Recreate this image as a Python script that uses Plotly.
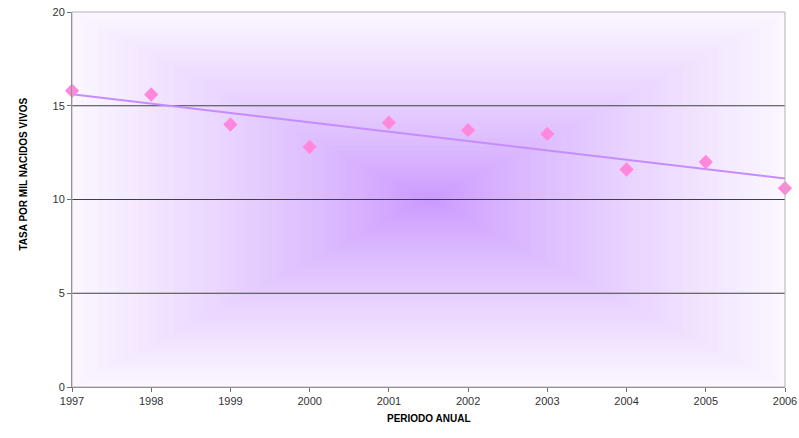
import numpy as np
import plotly.graph_objects as go

years = [1997, 1998, 1999, 2000, 2001, 2002, 2003, 2004, 2005, 2006]
tasa = [15.8, 15.6, 14.0, 12.8, 14.1, 13.7, 13.5, 11.6, 12.0, 10.6]
y_ticks = [0, 5, 10, 15, 20]

# linear trend line
coef = np.polyfit(years, tasa, 1)
trend = [coef[0] * yr + coef[1] for yr in years]

fig = go.Figure()

# gridlines (drawn above background, below data)
gx, gy = [], []
for t in y_ticks[1:-1]:
    gx += [years[0], years[-1], None]
    gy += [t, t, None]
fig.add_trace(go.Scatter(x=gx, y=gy, mode="lines", line=dict(color="#404040", width=1),
                         hoverinfo="skip", showlegend=False))

fig.add_trace(go.Scatter(x=[years[0], years[-1]], y=[trend[0], trend[-1]], mode="lines",
                         line=dict(color="#c58cff", width=2), showlegend=False, cliponaxis=False))
fig.add_trace(go.Scatter(x=years, y=tasa, mode="markers",
                         marker=dict(symbol="diamond", size=11, color="#ff88dd"),
                         showlegend=False, cliponaxis=False))

# rectangular "from center" gradient background
c_center = np.array([201, 150, 255])
c_edge = np.array([251, 246, 255])
N = 70
shapes = []
for k in range(N, 0, -1):
    f = k / N
    t = f ** 0.8
    col = c_center + (c_edge - c_center) * t
    h = f / 2
    shapes.append(dict(type="rect", xref="x domain", yref="y domain",
                       x0=0.5 - h, x1=0.5 + h, y0=0.5 - h, y1=0.5 + h,
                       line=dict(width=0), fillcolor="rgb(%d,%d,%d)" % tuple(col.round()),
                       layer="below"))
# top/right border
shapes.append(dict(type="rect", xref="x domain", yref="y domain", x0=0, x1=1, y0=0, y1=1,
                   line=dict(color="#b4b4b4", width=1), layer="above"))

fig.update_layout(
    width=799, height=438,
    margin=dict(l=72, r=14, t=12, b=51),
    paper_bgcolor="white", plot_bgcolor="white",
    font=dict(family="Arial, Liberation Sans", size=11, color="#333333"),
    shapes=shapes,
    xaxis=dict(range=[years[0], years[-1]], tickmode="array", tickvals=years,
               ticks="outside", ticklen=4, tickcolor="#707070", automargin=False,
               showline=True, linecolor="#707070", linewidth=1, showgrid=False,
               zeroline=False),
    yaxis=dict(range=[0, 20], tickmode="array", tickvals=y_ticks,
               ticks="outside", ticklen=4, tickcolor="#707070", automargin=False,
               showline=True, linecolor="#707070", linewidth=1, showgrid=False,
               zeroline=False),
    annotations=[
        dict(text="<b>PERIODO ANUAL</b>", xref="paper", yref="paper", x=0.5, y=0,
             yshift=-39, showarrow=False, font=dict(size=10, color="#000000")),
        dict(text="<b>TASA POR MIL NACIDOS VIVOS</b>", xref="paper", yref="paper",
             x=0, xshift=-57, y=0.568, textangle=-90, showarrow=False,
             font=dict(size=10, color="#000000")),
    ],
)

fig.write_html("out.html", config={"displayModeBar": False},
               post_script="document.body.style.margin='0';")
